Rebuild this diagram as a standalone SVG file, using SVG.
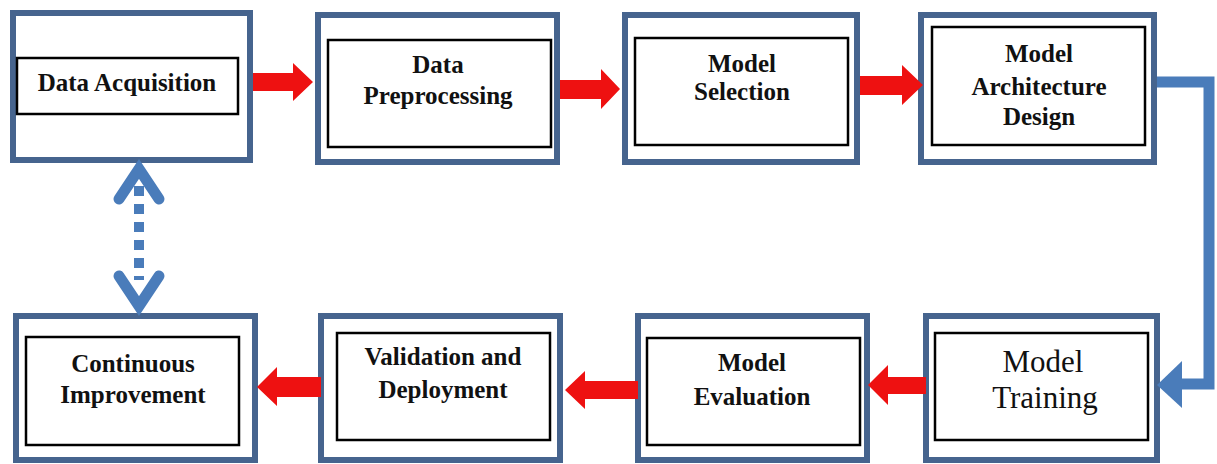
<svg xmlns="http://www.w3.org/2000/svg" width="1217" height="464" viewBox="0 0 1217 464">
  <style>
    .outer { fill: #ffffff; stroke: #46648e; stroke-width: 6; }
    .inner { fill: #ffffff; stroke: #000000; stroke-width: 2.5; }
    .lbl { font-family: "Liberation Serif", "Times New Roman", serif; font-weight: bold; font-size: 25px; fill: #111111; text-anchor: middle; }
    .lbl-big { font-family: "Liberation Serif", "Times New Roman", serif; font-size: 31px; fill: #111111; text-anchor: middle; }
    .flow { fill: #ee1111; }
    .link { fill: none; stroke: #4a7cba; stroke-width: 11; }
    .chevron { fill: none; stroke: #4a7cba; stroke-width: 11; stroke-linecap: round; stroke-linejoin: miter; }
  </style>
  <rect width="1217" height="464" fill="#ffffff"/>

  <!-- top row, left to right -->
  <g id="data-acquisition">
    <rect class="outer" x="13" y="13" width="237" height="147"/>
    <rect class="inner" x="17" y="58" width="221" height="56"/>
    <text class="lbl" x="127" y="91">Data Acquisition</text>
  </g>
  <g id="data-preprocessing">
    <rect class="outer" x="318" y="15" width="239" height="147"/>
    <rect class="inner" x="328" y="40" width="223" height="107"/>
    <text class="lbl" x="438" y="73">Data</text>
    <text class="lbl" x="438" y="104">Preprocessing</text>
  </g>
  <g id="model-selection">
    <rect class="outer" x="625" y="15" width="232" height="147"/>
    <rect class="inner" x="635" y="38" width="213" height="107"/>
    <text class="lbl" x="742" y="72">Model</text>
    <text class="lbl" x="742" y="100">Selection</text>
  </g>
  <g id="model-architecture-design">
    <rect class="outer" x="921" y="15" width="233" height="147"/>
    <rect class="inner" x="932" y="27" width="213" height="118"/>
    <text class="lbl" x="1039" y="62">Model</text>
    <text class="lbl" x="1039" y="95">Architecture</text>
    <text class="lbl" x="1039" y="125">Design</text>
  </g>

  <!-- bottom row, right to left -->
  <g id="model-training">
    <rect class="outer" x="926" y="316" width="231" height="144"/>
    <rect class="inner" x="935" y="333" width="213" height="107"/>
    <text class="lbl-big" x="1043" y="372">Model</text>
    <text class="lbl-big" x="1045" y="408">Training</text>
  </g>
  <g id="model-evaluation">
    <rect class="outer" x="638" y="316" width="229" height="144"/>
    <rect class="inner" x="647" y="338" width="213" height="107"/>
    <text class="lbl" x="752" y="371">Model</text>
    <text class="lbl" x="752" y="405">Evaluation</text>
  </g>
  <g id="validation-deployment">
    <rect class="outer" x="321" y="316" width="239" height="144"/>
    <rect class="inner" x="337" y="333" width="213" height="107"/>
    <text class="lbl" x="443" y="365">Validation and</text>
    <text class="lbl" x="443" y="398">Deployment</text>
  </g>
  <g id="continuous-improvement">
    <rect class="outer" x="16" y="316" width="239" height="144"/>
    <rect class="inner" x="26" y="337" width="213" height="108"/>
    <text class="lbl" x="133" y="372">Continuous</text>
    <text class="lbl" x="133" y="403">Improvement</text>
  </g>

  <g id="connectors">
    <!-- block arrows along the top row -->
    <polygon class="flow" points="253,73 293,73 293,63 313,82 293,101 293,91 253,91"/>
    <polygon class="flow" points="560,80 601,80 601,69 620,89 601,109 601,99 560,99"/>
    <polygon class="flow" points="860,76 902,76 902,65 923,85 902,105 902,95 860,95"/>

    <!-- elbow from the top row down to Model Training -->
    <polyline class="link" points="1157,82 1209,82 1209,384 1178,384"/>
    <polygon fill="#4a7cba" points="1157,385 1182,361 1182,408"/>

    <!-- block arrows along the bottom row -->
    <polygon class="flow" points="926,377 888,377 888,365 868,385 888,405 888,394 926,394"/>
    <polygon class="flow" points="638,381 585,381 585,371 565,390 585,409 585,399 638,399"/>
    <polygon class="flow" points="321,377 277,377 277,367 257,387 277,406 277,397 321,397"/>

    <!-- dashed two-way link between Data Acquisition and Continuous Improvement -->
    <line x1="139" y1="186" x2="139" y2="280" stroke="#4a7cba" stroke-width="10" stroke-dasharray="10 8"/>
    <polyline class="chevron" points="119,199 139,169 159,199"/>
    <polyline class="chevron" points="119,276 139,306 159,276"/>
  </g>
</svg>
